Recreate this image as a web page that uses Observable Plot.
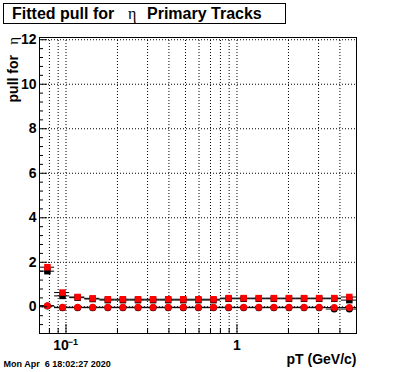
<!DOCTYPE html>
<html><head><meta charset="utf-8">
<script src="https://cdn.jsdelivr.net/npm/d3@7"></script>
<script src="https://cdn.jsdelivr.net/npm/@observablehq/plot@0.6"></script>
<style>
html,body{margin:0;padding:0;background:#fff;}
#chart{position:relative;width:396px;height:372px;}
svg text{white-space:pre;}
</style></head><body><div id="chart"></div>
<script>
// log-spaced pT bins (GeV/c), 21 bins from 0.07 to 5
const binEdges = [0.07,0.085778,0.105112,0.128805,0.157838,0.193415,0.237012,0.290436,0.355902,0.436125,0.534431,0.654895,0.802511,0.983401,1.205062,1.476686,1.809533,2.217407,2.717208,3.329663,4.080169,5.0];
// red squares / black squares (underlying histogram)
const redSquare   = [1.78,0.64,0.44,0.38,0.34,0.34,0.34,0.34,0.34,0.34,0.34,0.34,0.39,0.39,0.39,0.39,0.39,0.39,0.39,0.39,0.44];
const blackSquare = [1.60,0.49,0.41,0.35,0.30,0.30,0.30,0.30,0.30,0.30,0.30,0.30,0.36,0.36,0.36,0.36,0.36,0.36,0.36,0.36,0.30];
// red circles / black circles
const redCircle   = [0.05,-0.02,-0.02,-0.02,-0.02,-0.02,-0.02,-0.02,-0.02,-0.02,-0.02,-0.02,-0.02,-0.02,-0.02,-0.02,-0.02,-0.02,-0.02,-0.03,-0.03];
const blackCircle = [0.04,-0.04,-0.04,-0.04,-0.04,-0.04,-0.04,-0.04,-0.04,-0.04,-0.04,-0.04,-0.04,-0.04,-0.04,-0.04,-0.04,-0.04,-0.04,-0.10,-0.10];

const xMajorTicks = [0.1, 1];
const xMinorTicks = [0.08,0.09,0.2,0.3,0.4,0.5,0.6,0.7,0.8,0.9,2,3,4];
const xGrid = [0.08,0.09,0.1,0.2,0.3,0.4,0.5,0.6,0.7,0.8,0.9,1,2,3,4];
const yMajorTicks = [0,2,4,6,8,10,12];
const yMinorTicks = d3.range(-0.8, 12.01, 0.4).filter(v => Math.abs(v/2 - Math.round(v/2)) > 1e-6);

const titleMain = "Fitted pull for";
const titleGreek = "η";
const titleRest = "Primary Tracks";
const yTitleMain = "pull for";
const yTitleGreek = "η";
const xTitle = "pT (GeV/c)";
const dateStamp = "Mon Apr  6 18:02:27 2020";

const bins = binEdges.slice(0, -1).map((lo, i) => ({
  lo, hi: binEdges[i + 1], xc: (lo + binEdges[i + 1]) / 2,
  rs: redSquare[i], bs: blackSquare[i], rc: redCircle[i], bc: blackCircle[i]
}));

const sqR = 3.67;
const svg = Plot.plot({
  width: 396, height: 372,
  marginLeft: 39, marginRight: 40, marginTop: 37, marginBottom: 39,
  style: {fontFamily: "'Liberation Sans', Arial, Helvetica, sans-serif", fontSize: "14px", fontWeight: "bold", background: "white", color: "black"},
  x: {type: "log", domain: [0.07, 5]},
  y: {domain: [-1.2, 12.1]},
  marks: [
    Plot.ruleY(yMajorTicks, {stroke: "black", strokeDasharray: "1,2"}),
    Plot.ruleX(xGrid, {stroke: "black", strokeDasharray: "1,2"}),
    Plot.ruleY(bins, {y: "bs", x1: "lo", x2: "hi", stroke: "black"}),
    Plot.ruleY(bins, {y: "rs", x1: "lo", x2: "hi", stroke: "black"}),
    Plot.ruleY(bins, {y: "bc", x1: "lo", x2: "hi", stroke: "black"}),
    Plot.ruleY(bins, {y: "rc", x1: "lo", x2: "hi", stroke: "black"}),
    Plot.dot(bins, {x: "xc", y: "bs", symbol: "square", r: sqR, fill: "black", stroke: "none"}),
    Plot.dot(bins, {x: "xc", y: "bc", r: 3.5, fill: "black", stroke: "none"}),
    Plot.dot(bins, {x: "xc", y: "rs", symbol: "square", r: sqR, fill: "#ff0000", stroke: "none"}),
    Plot.dot(bins, {x: "xc", y: "rc", r: 3.5, fill: "#ff0000", stroke: "none"}),
    Plot.frame({stroke: "black"}),
    Plot.axisY({ticks: yMajorTicks, anchor: "left", tickSize: -8, text: null, label: null}),
    Plot.axisY({ticks: yMinorTicks, anchor: "left", tickSize: -4, text: null, label: null}),
    Plot.axisY({ticks: yMajorTicks, anchor: "left", tickSize: 0, tickPadding: 3, label: null, fontSize: 14, fontWeight: "bold", tickFormat: d => String(d)}),
    Plot.axisX({ticks: xMajorTicks, anchor: "bottom", tickSize: -9, text: null, label: null}),
    Plot.axisX({ticks: xMinorTicks, anchor: "bottom", tickSize: -5, text: null, label: null}),
    Plot.text([0.1], {x: d => d, text: () => "10", frameAnchor: "bottom", dy: 16, dx: -5, fontSize: 14, fontWeight: "bold"}),
    Plot.text([0.1], {x: d => d, text: () => "−1", frameAnchor: "bottom", dy: 11, dx: 7, fontSize: 9, fontWeight: "bold"}),
    Plot.text([1], {x: d => d, text: () => "1", frameAnchor: "bottom", dy: 16, fontSize: 14, fontWeight: "bold"}),
    Plot.text([xTitle], {text: d => d, frameAnchor: "bottom-right", textAnchor: "end", dy: 30, fontSize: 14, fontWeight: "bold"}),
    Plot.text([dateStamp], {text: d => d, frameAnchor: "bottom-left", textAnchor: "start", dx: -36, dy: 33, fontSize: 9, fontWeight: "bold"})
  ]
});

const s = d3.select(svg);
// title box
s.append("rect").attr("x", 3.5).attr("y", 3.5).attr("width", 282).attr("height", 20)
  .attr("fill", "white").attr("stroke", "black");
const tt = s.append("text").attr("y", 19).attr("font-size", 16).attr("font-weight", "bold")
  .attr("text-anchor", "start")
  .attr("font-family", "'Liberation Sans', Arial, sans-serif").attr("fill", "black");
tt.append("tspan").attr("x", 12).text(titleMain);
tt.append("tspan").attr("x", 128).attr("font-family", "'Liberation Serif', 'DejaVu Serif', serif").attr("font-weight", "normal").text(titleGreek);
tt.append("tspan").attr("x", 147).text(titleRest);
// y title (rotated, aligned at top of axis)
const yg = s.append("g").attr("transform", "translate(18,37) rotate(-90)");
yg.append("text").attr("x", 0).attr("text-anchor", "end").attr("font-size", 15)
  .attr("font-family", "'Liberation Serif', 'DejaVu Serif', serif").attr("font-weight", "normal").text(yTitleGreek);
yg.append("text").attr("x", -18).attr("text-anchor", "end").attr("font-size", 14)
  .attr("font-weight", "bold").text(yTitleMain);

document.getElementById("chart").appendChild(svg);
</script></body></html>
